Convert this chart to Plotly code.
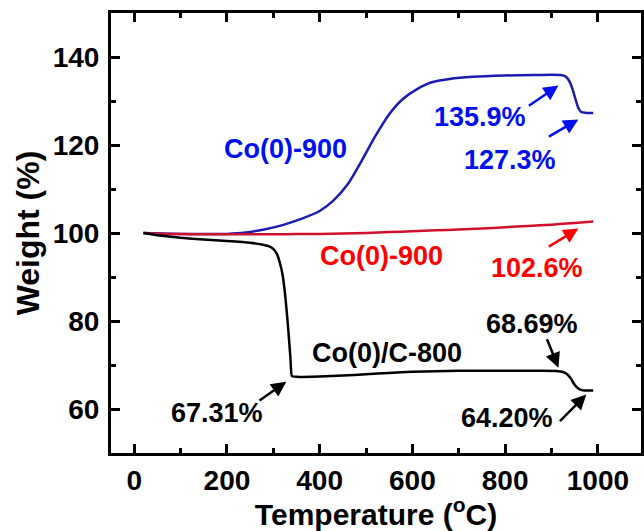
import plotly.graph_objects as go

# TGA curves: temperature (°C) vs. remaining weight (%)
temp_c800 = [20, 50, 100, 150, 200, 250, 275, 290, 300, 308, 314, 320, 326, 332, 337, 340, 350,
             400, 450, 500, 550, 600, 650, 700, 800, 880, 910, 925, 935, 942, 948, 955, 962, 970, 990]
weight_c800 = [100, 99.5, 98.9, 98.5, 98.2, 97.8, 97.4, 97.0, 96.4, 95.2, 93.3, 90.5, 85.5, 78.5, 71.5,
               67.5, 67.31, 67.4, 67.6, 67.9, 68.2, 68.45, 68.6, 68.69, 68.69, 68.69, 68.65, 68.4, 67.8,
               66.9, 65.8, 64.9, 64.4, 64.22, 64.2]

temp_red = [20, 50, 100, 150, 200, 250, 300, 350, 400, 450, 500, 550, 600, 650, 700, 750, 800, 850,
            900, 950, 990]
weight_red = [100, 99.85, 99.75, 99.7, 99.7, 99.7, 99.72, 99.75, 99.8, 99.9, 100.0, 100.2, 100.4,
              100.6, 100.8, 101.0, 101.3, 101.6, 101.9, 102.3, 102.6]

temp_blue = [20, 100, 150, 200, 240, 280, 320, 360, 400, 430, 460, 490, 520, 550, 580, 610, 640, 680,
             730, 800, 860, 920, 930, 938, 945, 952, 958, 964, 975, 990]
weight_blue = [100, 99.8, 99.75, 99.8, 100.1, 100.8, 101.8, 103.2, 105.0, 107.4, 111.0, 116.3, 122.0,
               127.0, 130.5, 132.7, 134.2, 135.0, 135.5, 135.8, 135.9, 135.9, 135.6, 134.6, 132.8,
               130.3, 128.4, 127.5, 127.3, 127.3]

x_ticks = [0, 200, 400, 600, 800, 1000]
y_ticks = [60, 80, 100, 120, 140]

BLUE_LINE, BLUE_TEXT = "#1c1cb0", "#0010ee"
RED_LINE, RED_TEXT = "#d0102c", "#ff0000"
BLACK = "#000000"
FONT = "Liberation Sans, Arial, sans-serif"

fig = go.Figure()
fig.add_trace(go.Scatter(x=temp_blue, y=weight_blue, mode="lines",
                         line=dict(color=BLUE_LINE, width=2.5, shape="spline", smoothing=0.8)))
fig.add_trace(go.Scatter(x=temp_red, y=weight_red, mode="lines",
                         line=dict(color=RED_LINE, width=2.5, shape="spline", smoothing=0.8)))
fig.add_trace(go.Scatter(x=temp_c800, y=weight_c800, mode="lines",
                         line=dict(color=BLACK, width=2.5, shape="spline", smoothing=0.4)))

# text labels: (text, x, y, colour)
labels = [
    ("Co(0)-900", 327, 119.2, BLUE_TEXT),
    ("135.9%", 745, 126.4, BLUE_TEXT),
    ("127.3%", 810, 116.7, BLUE_TEXT),
    ("Co(0)-900", 533, 94.8, RED_TEXT),
    ("102.6%", 868, 92.1, RED_TEXT),
    ("68.69%", 857, 79.4, BLACK),
    ("Co(0)/C-800", 546, 72.8, BLACK),
    ("67.31%", 178, 59.2, BLACK),
    ("64.20%", 803, 58.0, BLACK),
]
for text, x, y, col in labels:
    fig.add_annotation(x=x, y=y, text=text, showarrow=False, xanchor="center", yanchor="middle",
                       font=dict(family=FONT, size=27, color=col, weight="bold"))

# arrows: (tail x, tail y, head x, head y, colour)
arrows = [
    (848, 128.7, 915, 133.5, BLUE_TEXT),
    (891, 121.7, 958, 125.8, BLUE_TEXT),
    (891, 96.7, 958, 101.0, RED_TEXT),
    (889, 76.2, 915, 69.4, BLACK),
    (267, 61.7, 328, 66.2, BLACK),
    (915, 56.9, 975, 63.3, BLACK),
]
for ax, ay, x, y, col in arrows:
    fig.add_annotation(x=x, y=y, ax=ax, ay=ay, xref="x", yref="y", axref="x", ayref="y",
                       text="", showarrow=True, arrowhead=2, arrowsize=1.2, arrowwidth=2.5,
                       arrowcolor=col, standoff=0, startstandoff=0)

axis_common = dict(showline=True, linewidth=3, linecolor=BLACK, mirror="ticks", ticks="inside",
                   ticklen=9, tickwidth=3, tickcolor=BLACK, showgrid=False, zeroline=False,
                   tickfont=dict(family=FONT, size=28, color=BLACK, weight="bold"))

fig.update_xaxes(range=[-50, 1093], tickvals=x_ticks,
                 minor=dict(dtick=100, ticks="inside", ticklen=5, tickwidth=2.5, tickcolor=BLACK),
                 title=dict(text="Temperature (<sup>o</sup>C)", standoff=3,
                            font=dict(family=FONT, size=30, color=BLACK, weight="bold")),
                 ticklabelstandoff=0, **axis_common)
fig.update_yaxes(range=[50, 150], tickvals=y_ticks,
                 minor=dict(dtick=10, ticks="inside", ticklen=5, tickwidth=2.5, tickcolor=BLACK),
                 title=dict(text="Weight (%)", standoff=4,
                            font=dict(family=FONT, size=32, color=BLACK, weight="bold")),
                 ticklabelstandoff=3, **axis_common)

fig.update_layout(width=644, height=531, margin=dict(l=111, r=0, t=13, b=78),
                  plot_bgcolor="white", paper_bgcolor="white", showlegend=False)

fig.write_html("out.html")
